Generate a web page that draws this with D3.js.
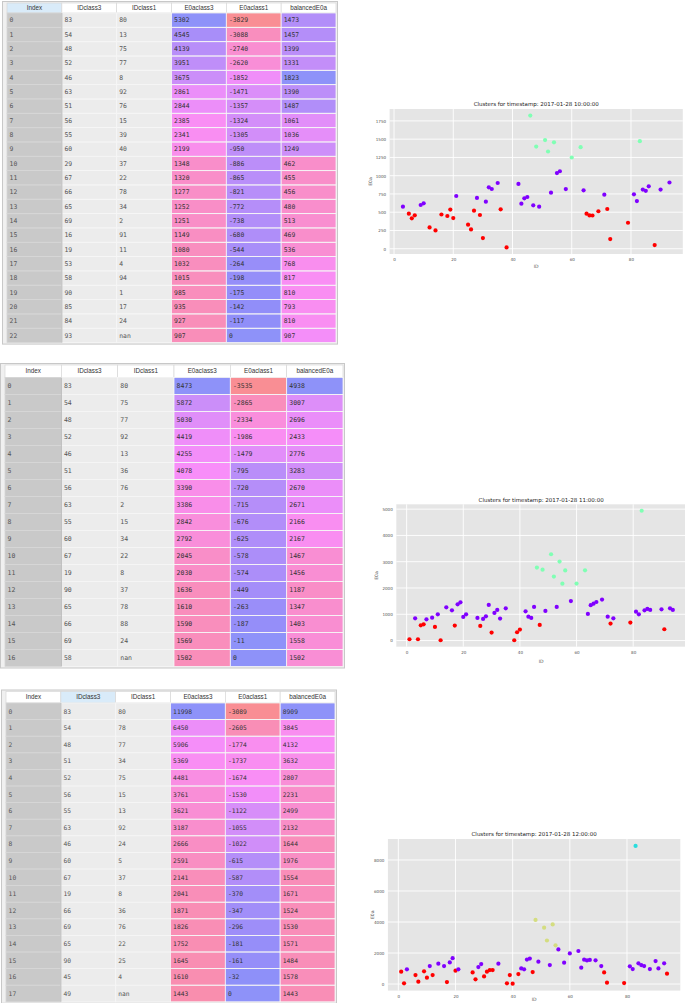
<!DOCTYPE html>
<html><head><meta charset="utf-8">
<script src="https://cdn.jsdelivr.net/npm/d3@7"></script>
<style>body{margin:0;background:#fff;} svg{display:block;}</style>
</head><body>
<svg id="c" width="685" height="1003"></svg>
<script>
// ---------------- DATA ----------------
const columns = ["Index","IDclass3","IDclass1","E0aclass3","E0aclass1","balancedE0a"];

// table 1 (10:00)
const t1IDclass3 = [83,54,48,52,46,63,51,56,55,60,29,67,66,65,69,16,19,53,58,90,85,84,93];
const t1IDclass1 = ["80","13","75","77","8","92","76","15","39","40","37","22","78","34","2","91","11","4","94","1","17","24","nan"];
const t1E0aclass3 = [5302,4545,4139,3951,3675,2861,2844,2385,2341,2199,1348,1320,1277,1252,1251,1149,1080,1032,1015,985,935,927,907];
const t1E0aclass1 = [-3829,-3088,-2740,-2620,-1852,-1471,-1357,-1324,-1305,-950,-886,-865,-821,-772,-738,-680,-544,-264,-198,-175,-142,-117,0];
const t1Balanced = [1473,1457,1399,1331,1823,1390,1487,1061,1036,1249,462,455,456,480,513,469,536,768,817,810,793,810,907];

// table 2 (11:00)
const t2IDclass3 = [83,54,48,52,46,51,56,63,55,60,67,19,90,65,66,69,58];
const t2IDclass1 = ["80","75","77","92","13","36","76","2","15","34","22","8","37","78","88","24","nan"];
const t2E0aclass3 = [8473,5872,5030,4419,4255,4078,3390,3386,2842,2792,2045,2030,1636,1610,1590,1569,1502];
const t2E0aclass1 = [-3535,-2865,-2334,-1986,-1479,-795,-720,-715,-676,-625,-578,-574,-449,-263,-187,-11,0];
const t2Balanced = [4938,3007,2696,2433,2776,3283,2670,2671,2166,2167,1467,1456,1187,1347,1403,1558,1502];

// table 3 (12:00)
const t3IDclass3 = [83,54,48,51,52,56,55,63,46,60,67,19,66,69,65,90,45,49];
const t3IDclass1 = ["80","78","77","34","75","15","13","92","24","5","37","8","36","76","22","25","4","nan"];
const t3E0aclass3 = [11998,6450,5906,5369,4481,3761,3621,3187,2666,2591,2141,2041,1871,1826,1752,1645,1610,1443];
const t3E0aclass1 = [-3089,-2605,-1774,-1737,-1674,-1530,-1122,-1055,-1022,-615,-587,-370,-347,-296,-181,-161,-32,0];
const t3Balanced = [8909,3845,4132,3632,2807,2231,2499,2132,1644,1976,1554,1671,1524,1530,1571,1484,1578,1443];

// scatter 1 (10:00)
const s1ID = [3,5,6,7,9,10,12,14,16,18,19,20,21,25,26,27,28,29,30,31,32,33,35,36,38,42,43,44,45,46,47,48,49,51,52,53,54,55,56,58,60,63,64,65,66,67,69,71,72,73,79,81,82,83,84,85,86,88,90,93];
const s1E0a = [576,480,416,457,599,622,292,251,469,448,536,420,722,329,265,521,695,462,146,644,841,818,900,539,18,887,617,690,708,1823,594,1399,576,1487,1331,768,1457,1036,1061,817,1249,1390,800,480,456,455,513,740,544,133,356,745,653,1473,810,793,855,50,810,907];
const s1Cluster = ["P","R","R","R","P","P","R","R","R","R","R","R","P","R","R","R","P","R","R","P","P","P","P","R","R","P","P","P","P","G","P","G","P","G","G","P","G","P","P","P","G","G","P","R","R","R","R","P","R","R","R","P","P","G","P","P","P","R","P","P"];

// scatter 2 (11:00)
const s2ID = [1,3,4,5,6,7,9,10,11,12,14,16,17,18,19,20,21,25,26,27,28,29,30,31,32,33,35,38,39,40,42,43,44,45,46,47,48,49,51,52,53,54,55,56,58,60,63,64,65,66,67,69,71,72,73,79,81,82,83,84,85,86,90,91,93,94];
const s2E0a = [51,848,51,582,620,810,873,519,1000,13,1266,1152,570,1380,1456,899,1000,861,557,823,924,1355,304,1051,1165,836,1228,13,316,418,1114,911,861,1279,2776,595,2696,1127,3283,2433,1279,3007,2166,2670,1502,2167,2671,1013,1347,1403,1467,1558,911,646,848,684,1101,1000,4938,1152,1203,1165,1187,430,1228,1165];
const s2Cluster = ["R","P","R","R","R","P","P","R","P","R","P","P","R","P","P","P","P","P","R","P","P","P","R","P","P","P","P","R","R","R","P","P","P","P","G","R","G","P","G","G","P","G","G","G","P","G","G","P","P","P","P","P","P","R","P","R","P","P","G","P","P","P","P","R","P","P"];

// scatter 3 (12:00)
const s3ID = [1,2,3,6,7,9,10,11,12,14,16,17,18,19,20,21,26,27,28,29,30,31,32,33,35,38,39,40,42,43,44,45,46,47,48,49,51,52,53,54,55,56,58,60,63,64,65,66,67,69,71,72,73,79,81,82,83,84,85,86,88,90,91,93,94];
const s3E0a = [796,43,946,581,150,817,408,1161,581,1311,1161,129,1397,1671,860,946,752,301,1096,1290,494,796,903,903,1311,43,581,21,645,1010,946,1578,1644,774,4132,1443,3632,2807,1225,3845,2499,2231,1376,1976,2132,1053,1571,1524,1554,1530,1161,752,86,64,1140,968,8909,1333,1225,1161,968,1484,1010,1333,666];
const s3Cluster = ["R","R","P","R","R","R","R","P","R","P","P","R","P","P","R","P","R","R","P","P","R","R","R","R","P","R","R","R","R","P","P","P","P","R","Y","P","Y","Y","P","Y","Y","P","P","P","P","P","P","P","P","P","P","R","R","R","P","P","C","P","P","P","P","P","P","P","R"];

const titles = ["Clusters for timestamp: 2017-01-28 10:00:00","Clusters for timestamp: 2017-01-28 11:00:00","Clusters for timestamp: 2017-01-28 12:00:00"];
const xTicks = [0,20,40,60,80];
const yTicks1 = [0,250,500,750,1000,1250,1500,1750];
const yTicks2 = [0,1000,2000,3000,4000,5000];
const yTicks3 = [0,2000,4000,6000,8000];

// ---------------- STYLE ----------------
const clusterColor = {P:"#8000ff", R:"#ff0000", G:"#80ffb4", Y:"#d4dd80", C:"#2adddd"};
const svg = d3.select("#c");

function drawTable(cfg, idc3, idc1, e3, e1, bal) {
  const n = idc3.length;
  const g = svg.append("g");
  const xb = d3.scaleBand().domain(columns).range([cfg.x0, cfg.x1]);
  const yb = d3.scaleBand().domain(d3.range(n)).range([cfg.row0, cfg.row0 + n * cfg.rowH]);
  // frame
  g.append("rect").attr("x", cfg.x0 - 4.5).attr("y", cfg.headTop - 1.5)
    .attr("width", cfg.x1 - cfg.x0 + 6).attr("height", cfg.row0 + n*cfg.rowH - cfg.headTop + 3)
    .attr("fill", "#f0f0f0").attr("stroke", "#c8c8c8");
  // header
  columns.forEach(c => {
    g.append("rect").attr("x", xb(c)).attr("y", cfg.headTop)
      .attr("width", xb.bandwidth()).attr("height", cfg.row0 - cfg.headTop)
      .attr("fill", c === cfg.hl ? "#d9ebf9" : "#ffffff").attr("stroke", "#d8d8d8").attr("stroke-width", 0.7);
    g.append("text").attr("x", xb(c) + xb.bandwidth()/2).attr("y", (cfg.headTop + cfg.row0)/2)
      .attr("dy", "0.35em").attr("text-anchor", "middle")
      .style("font-family", "Liberation Sans, Arial, sans-serif").style("font-size", "6.3px").attr("fill", "#333")
      .text(c);
  });
  const numCols = {E0aclass3: e3, E0aclass1: e1, balancedE0a: bal};
  const rows = d3.range(n);
  columns.forEach(c => {
    let fillFn, opac = 1, textFn;
    if (c === "Index") { fillFn = () => "#c9c9c9"; textFn = i => String(i); }
    else if (c === "IDclass3") { fillFn = () => "#ececec"; textFn = i => String(idc3[i]); }
    else if (c === "IDclass1") { fillFn = () => "#ececec"; textFn = i => idc1[i]; }
    else {
      const arr = numCols[c];
      const lo = Math.min(0, d3.min(arr)), hi = Math.max(0, d3.max(arr));
      const hue = d3.scaleLinear().domain([lo, hi]).range([0.99, 0.66]);
      fillFn = i => d3.hsl(hue(arr[i]) * 360, 1, 0.65).toString();
      opac = 0.6;
      textFn = i => String(arr[i]);
    }
    g.selectAll(null).data(rows).join("rect")
      .attr("x", xb(c)).attr("y", i => yb(i)).attr("width", xb.bandwidth()).attr("height", yb.bandwidth())
      .attr("fill", fillFn).attr("fill-opacity", opac);
    g.selectAll(null).data(rows).join("rect")
      .attr("x", xb(c)).attr("y", i => yb(i)).attr("width", xb.bandwidth()).attr("height", yb.bandwidth())
      .attr("fill", "none").attr("stroke", c === "Index" ? "#d6d6d6" : "#f6f6f6").attr("stroke-width", 0.8);
    g.selectAll(null).data(rows).join("text")
      .attr("x", xb(c) + 2.6).attr("y", i => yb(i) + yb.bandwidth()/2).attr("dy", "0.35em")
      .style("font-family", "DejaVu Sans Mono, monospace").style("font-size", cfg.fs + "px")
      .attr("fill", (c === "IDclass3" || c === "IDclass1" || c === "Index") ? "#555" : "#333")
      .text(textFn);
  });
  g.append("line").attr("x1", xb("IDclass3")).attr("x2", xb("IDclass3"))
    .attr("y1", cfg.row0).attr("y2", cfg.row0 + n*cfg.rowH).attr("stroke", "#a8a8a8").attr("stroke-width", 0.8);
}

drawTable({x0:7, x1:336, headTop:3, row0:13, rowH:14.33, fs:6.4, hl:"Index"}, t1IDclass3, t1IDclass1, t1E0aclass3, t1E0aclass1, t1Balanced);
drawTable({x0:5, x1:343, headTop:365, row0:377.5, rowH:17.0, fs:6.5, hl:null}, t2IDclass3, t2IDclass1, t2E0aclass3, t2E0aclass1, t2Balanced);
drawTable({x0:6, x1:335, headTop:691.5, row0:703, rowH:16.6, fs:6.3, hl:"IDclass3"}, t3IDclass3, t3IDclass1, t3E0aclass3, t3E0aclass1, t3Balanced);

function drawChart(cfg, ids, vals, cl, title, yTicks) {
  const g = svg.append("g");
  const x = d3.scaleLinear().domain(cfg.xd).range([cfg.left, cfg.right]);
  const y = d3.scaleLinear().domain(cfg.yd).range([cfg.bottom, cfg.top]);
  g.append("rect").attr("x", cfg.left).attr("y", cfg.top)
    .attr("width", cfg.right - cfg.left).attr("height", cfg.bottom - cfg.top).attr("fill", "#e5e5e5");
  g.selectAll(null).data(xTicks).join("line")
    .attr("x1", d => x(d)).attr("x2", d => x(d)).attr("y1", cfg.top).attr("y2", cfg.bottom)
    .attr("stroke", "#fff").attr("stroke-width", 0.9);
  g.selectAll(null).data(yTicks).join("line")
    .attr("x1", cfg.left).attr("x2", cfg.right).attr("y1", d => y(d)).attr("y2", d => y(d))
    .attr("stroke", "#fff").attr("stroke-width", 0.9);
  const ax = g.append("g").attr("transform", `translate(0,${cfg.bottom})`)
    .call(d3.axisBottom(x).tickValues(xTicks).tickSize(0).tickPadding(cfg.xpad));
  const ay = g.append("g").attr("transform", `translate(${cfg.left},0)`)
    .call(d3.axisLeft(y).tickValues(yTicks).tickSize(0).tickPadding(3.5).tickFormat(d3.format("d")));
  [ax, ay].forEach(a => {
    a.select(".domain").remove();
    a.selectAll("text").style("font-family", "DejaVu Sans, sans-serif").style("font-size", "4.1px").attr("fill", "#555");
  });
  g.selectAll(null).data(ids.map((d, i) => i)).join("circle")
    .attr("cx", i => x(ids[i])).attr("cy", i => y(vals[i])).attr("r", 2.1)
    .attr("fill", i => clusterColor[cl[i]]);
  g.append("text").attr("x", (cfg.left + cfg.right)/2).attr("y", cfg.titleY).attr("text-anchor", "middle")
    .style("font-family", "DejaVu Sans, sans-serif").style("font-size", "5.5px").attr("fill", "#222").text(title);
  g.append("text").attr("x", (cfg.left + cfg.right)/2).attr("y", cfg.idY).attr("dy", "0.35em").attr("text-anchor", "middle")
    .style("font-family", "DejaVu Sans, sans-serif").style("font-size", "4.6px").attr("fill", "#555").text("ID");
  g.append("text").attr("transform", `translate(${cfg.ylabX},${(cfg.top + cfg.bottom)/2}) rotate(-90)`)
    .attr("dy", "0.35em").attr("text-anchor", "middle")
    .style("font-family", "DejaVu Sans, sans-serif").style("font-size", "4.6px").attr("fill", "#555").text("E0a");
}

drawChart({left:389.6, right:682.8, top:109, bottom:254, xd:[-1.5,97.5], yd:[-72,1913], titleY:106, idY:266.7, ylabX:370, xpad:4}, s1ID, s1E0a, s1Cluster, titles[0], yTicks1);
drawChart({left:396.3, right:686, top:504.3, bottom:646.7, xd:[-3.65,98.65], yd:[-233,5184], titleY:501.5, idY:661, ylabX:376.7, xpad:4}, s2ID, s2E0a, s2Cluster, titles[1], yTicks2);
drawChart({left:387.9, right:680.3, top:839, bottom:990.6, xd:[-3.65,98.65], yd:[-423,9353], titleY:835.5, idY:999, ylabX:372, xpad:4}, s3ID, s3E0a, s3Cluster, titles[2], yTicks3);
</script>
</body></html>
